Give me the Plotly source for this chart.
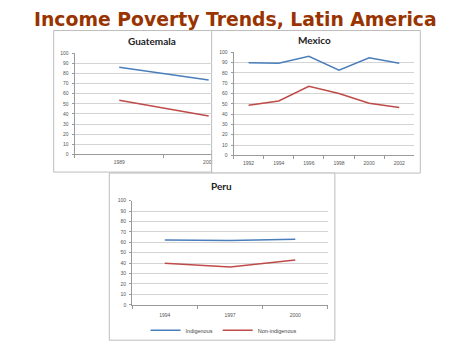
import plotly.graph_objects as go

W, H = 474, 355

# ---- data ----
gt_years = ["1989", "2000"]
gt_indigenous = [86, 73.5]
gt_non_indigenous = [53.5, 38]

mx_years = ["1992", "1994", "1996", "1998", "2000", "2002"]
mx_indigenous = [89.8, 89.2, 95.9, 82.5, 94.6, 89.2]
mx_non_indigenous = [48.6, 52.7, 67, 60, 50.5, 46.3]

pe_years = ["1994", "1997", "2000"]
pe_indigenous = [62.3, 61.6, 62.9]
pe_non_indigenous = [40, 36.2, 43.1]

series_names = ["Indigenous", "Non-indigenous"]
BLUE = "#4a7ebb"
RED = "#be4b48"

def px(x):
    return x / W

def py(y):
    return 1 - y / H

fig = go.Figure()

def add_pair(xs, a, b, xa, ya, show):
    fig.add_trace(go.Scatter(x=xs, y=a, mode="lines", name=series_names[0],
                             line=dict(color=BLUE, width=1.5), xaxis=xa, yaxis=ya,
                             showlegend=show))
    fig.add_trace(go.Scatter(x=xs, y=b, mode="lines", name=series_names[1],
                             line=dict(color=RED, width=1.5), xaxis=xa, yaxis=ya,
                             showlegend=show))

add_pair(gt_years, gt_indigenous, gt_non_indigenous, "x", "y", False)
add_pair(mx_years, mx_indigenous, mx_non_indigenous, "x2", "y2", False)
add_pair(pe_years, pe_indigenous, pe_non_indigenous, "x3", "y3", True)

tickfont = dict(family="Liberation Sans", size=5, color="#555555")

def xaxis_cfg(dom, rng, anchor, standoff):
    return dict(domain=[px(dom[0]), px(dom[1])], range=rng, anchor=anchor,
                type="category", tickson="boundaries", ticks="outside", ticklen=3,
                tickcolor="#9a9a9a", showline=True, linecolor="#9a9a9a", linewidth=1,
                showgrid=False, zeroline=False, tickfont=tickfont, fixedrange=True,
                ticklabelstandoff=standoff)

def yaxis_cfg(dom, anchor):
    return dict(domain=[py(dom[1]), py(dom[0])], range=[0, 100], dtick=10, anchor=anchor,
                ticks="outside", ticklen=2, tickcolor="#9a9a9a", showline=True,
                linecolor="#9a9a9a", linewidth=1, showgrid=True, gridcolor="#d4d4d4",
                gridwidth=1, zeroline=False, tickfont=tickfont, fixedrange=True,
                ticklabelstandoff=2)

# Guatemala: 1989 centred at x=120, plot left 75 -> category width 90; visible to x=213
gt_right = -0.5 + (213 - 75) / 90

fig.update_layout(
    width=W, height=H,
    margin=dict(l=0, r=0, t=0, b=0),
    paper_bgcolor="white", plot_bgcolor="rgba(0,0,0,0)",
    xaxis=xaxis_cfg((75, 213), [-0.5, gt_right], "y", 3),
    yaxis=yaxis_cfg((51, 154), "x"),
    xaxis2=xaxis_cfg((235, 417), [-0.5, 5.5], "y2", 3),
    yaxis2=yaxis_cfg((50, 155), "x2"),
    xaxis3=xaxis_cfg((133, 330), [-0.5, 2.5], "y3", 5),
    yaxis3=yaxis_cfg((201, 307), "x3"),
    showlegend=True,
    legend=dict(orientation="h", x=px(225), y=py(333), xanchor="center", yanchor="middle",
                font=dict(family="Liberation Sans", size=5.5, color="#444444"),
                itemwidth=30, bgcolor="rgba(0,0,0,0)", tracegroupgap=0),
)

frame = dict(color="#bdbdbd", width=1)
shapes = [
    dict(type="rect", xref="paper", yref="paper", x0=px(54), x1=px(300), y0=py(172), y1=py(28),
         line=frame, fillcolor="white", layer="below"),
    dict(type="rect", xref="paper", yref="paper", x0=px(213), x1=px(423), y0=py(173), y1=py(28),
         line=frame, fillcolor="white", layer="below"),
    dict(type="rect", xref="paper", yref="paper", x0=px(110), x1=px(337), y0=py(343), y1=py(173),
         line=frame, fillcolor="white", layer="below"),
    # white patch hiding the part of Guatemala's last label that sits under the Mexico chart
    dict(type="rect", xref="paper", yref="paper", x0=px(213.5), x1=px(232), y0=py(171), y1=py(158),
         line=dict(width=0), fillcolor="white", layer="above"),
    dict(type="line", xref="paper", yref="paper", x0=px(213), x1=px(213), y0=py(172), y1=py(150),
         line=frame, layer="above"),
]
fig.update_layout(shapes=shapes)

titlefont = dict(family="Lato", size=10, color="#222222", weight="bold")
annotations = [
    dict(text="<b>Income Poverty Trends, Latin America</b>", x=px(237), y=py(17),
         xref="paper", yref="paper", showarrow=False, xanchor="center", yanchor="middle",
         font=dict(family="DejaVu Sans", size=18.8, color="#993300")),
    dict(text="<b>Guatemala</b>", x=px(153), y=py(39), xref="paper", yref="paper",
         showarrow=False, xanchor="center", yanchor="middle", font=titlefont),
    dict(text="<b>Mexico</b>", x=px(317), y=py(38), xref="paper", yref="paper",
         showarrow=False, xanchor="center", yanchor="middle", font=titlefont),
    dict(text="<b>Peru</b>", x=px(223), y=py(186), xref="paper", yref="paper",
         showarrow=False, xanchor="center", yanchor="middle", font=titlefont),
]
fig.update_layout(annotations=annotations)

fig.write_html("out.html", config={"displayModeBar": False},
               post_script="document.body.style.margin='0px';")
